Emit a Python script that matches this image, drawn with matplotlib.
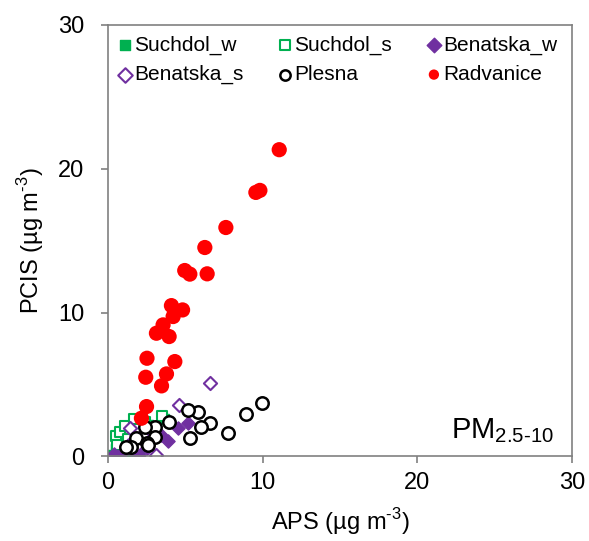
import matplotlib
matplotlib.use('Agg')
import matplotlib.pyplot as plt

# values (APS on x, PCIS on y, ug m-3)
suchdol_w_x = [0.3, 0.7, 1.1, 1.6, 0.5, 2.0, 3.6, 1.4, 2.6]
suchdol_w_y = [0.1, 0.2, 0.1, 0.3, 0.5, 0.2, 2.6, 0.6, 2.2]
suchdol_s_x = [0.5, 0.8, 1.1, 1.7, 3.5, 0.6, 2.4, 1.3]
suchdol_s_y = [1.4, 1.7, 2.1, 2.6, 2.8, 0.8, 2.4, 1.2]
benatska_w_x = [0.4, 1.0, 1.5, 2.0, 2.5, 3.9, 5.2, 4.5, 3.4, 1.3]
benatska_w_y = [0.2, 0.3, 0.5, 0.1, 0.6, 1.1, 2.3, 2.0, 1.5, 0.8]
benatska_s_x = [1.4, 3.1, 4.6, 6.6, 2.2, 1.8]
benatska_s_y = [2.0, 0.1, 3.6, 5.1, 1.5, 0.7]
plesna_x = [9.93, 8.91, 7.73, 6.58, 6.04, 5.83, 5.18, 5.29, 3.95, 3.02,
            2.38, 3.02, 1.84, 2.49, 1.51, 1.19, 2.6]
plesna_y = [3.70, 2.96, 1.66, 2.31, 2.07, 3.12, 3.24, 1.27, 2.42, 2.07,
            2.07, 1.38, 1.27, 0.92, 0.64, 0.64, 0.80]
radvanice_x = [11.07, 9.56, 9.82, 7.62, 6.26, 6.41, 4.96, 5.29, 4.10, 4.82,
               4.21, 3.56, 3.13, 3.95, 2.52, 4.32, 2.44, 3.78, 3.46, 2.49, 2.16]
radvanice_y = [21.33, 18.36, 18.5, 15.92, 14.53, 12.7, 12.93, 12.68, 10.49, 10.19,
               9.73, 9.15, 8.57, 8.34, 6.83, 6.60, 5.51, 5.74, 4.91, 3.47, 2.66]

plt.rcParams['font.family'] = ['Liberation Sans', 'DejaVu Sans']

fig = plt.figure(figsize=(5.89, 5.41), dpi=100)
ax = fig.add_axes([0.1834, 0.1562, 0.7877, 0.7976])

green = '#00b050'
purple = '#7030a0'
ax.scatter(suchdol_w_x, suchdol_w_y, marker='s', s=55, color=green, label='Suchdol_w')
ax.scatter(suchdol_s_x, suchdol_s_y, marker='s', s=55, facecolor='white',
           edgecolor=green, linewidth=1.5, label='Suchdol_s')
ax.scatter(benatska_w_x, benatska_w_y, marker='D', s=45, color=purple, label='Benatska_w')
ax.scatter(benatska_s_x, benatska_s_y, marker='D', s=45, facecolor='white',
           edgecolor=purple, linewidth=1.5, label='Benatska_s')
ax.scatter(plesna_x, plesna_y, marker='o', s=80, facecolor='white',
           edgecolor='black', linewidth=1.8, label='Plesna')
ax.scatter(radvanice_x, radvanice_y, marker='o', s=120, color='#ff0000',
           edgecolor='none', label='Radvanice')

ax.set_xlim(0, 30)
ax.set_ylim(0, 30)
ax.set_xticks([0, 10, 20, 30])
ax.set_yticks([0, 10, 20, 30])
for sp in ax.spines.values():
    sp.set_color('#808080')
    sp.set_linewidth(1.2)
ax.tick_params(direction='out', length=5, width=1.2, color='#808080',
               labelsize=17)
ax.tick_params(axis='x', pad=6)
ax.tick_params(axis='y', pad=12)
ax.set_xlabel('APS (µg m$^{\\mathregular{\u20103}}$)', fontsize=17, labelpad=9)
ax.set_ylabel('PCIS (µg m$^{\\mathregular{\u20103}}$)', fontsize=17, labelpad=9)

ax.text(0.962, 0.06, 'PM$_{\\mathregular{2.5\u201010}}$', transform=ax.transAxes,
        ha='right', va='center', fontsize=21)

# legend filled row by row like the original
handles, labels = ax.get_legend_handles_labels()
order = [0, 3, 1, 4, 2, 5]
leg = ax.legend([handles[i] for i in order], [labels[i] for i in order],
                loc='upper left', bbox_to_anchor=(0.0, 1.0), ncol=3,
                frameon=False, fontsize=15, handlelength=0.6,
                handletextpad=0.15, columnspacing=1.7, labelspacing=0.5,
                borderaxespad=0.1, scatterpoints=1)
for h in leg.legend_handles:
    h.set_sizes([55])

fig.savefig('out.png', dpi=100)
